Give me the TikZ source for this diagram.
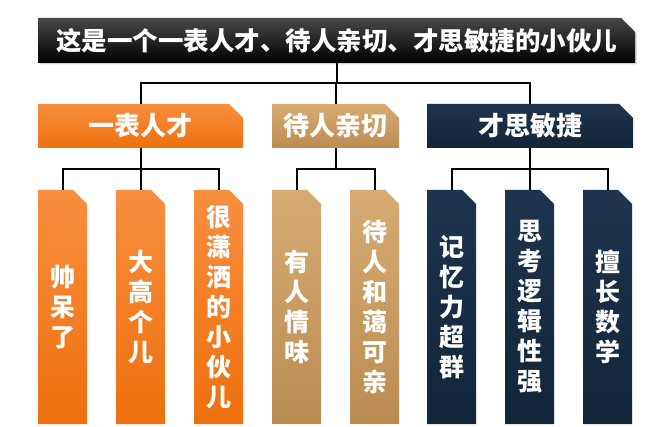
\documentclass[tikz,border=0pt]{standalone}
\usepackage{fontspec}
\setmainfont{Noto Sans CJK SC}
\usepackage{xcolor}
\usetikzlibrary{shapes.misc,shadows}

\definecolor{orangetop}{RGB}{248,142,62}
\definecolor{orangebot}{RGB}{238,112,14}
\definecolor{tantop}{RGB}{214,171,114}
\definecolor{tanbot}{RGB}{186,140,82}
\definecolor{navytop}{RGB}{30,52,78}
\definecolor{navybot}{RGB}{18,37,57}

\tikzset{
  box/.style={chamfered rectangle, chamfered rectangle corners=north east,
    chamfered rectangle sep=7pt, inner sep=0pt, text=white, align=center,
    font=\bfseries\fontsize{25}{30}\selectfont},
  titlebox/.style={box, top color=black!72, bottom color=black,
    font=\bfseries\fontsize{25.5}{30}\selectfont,
    drop shadow={shadow xshift=1.5pt, shadow yshift=-1.5pt, opacity=.35}},
  orangebox/.style={box, top color=orangetop, bottom color=orangebot},
  tanbox/.style={box, top color=tantop, bottom color=tanbot},
  navybox/.style={box, top color=navytop, bottom color=navybot},
  branch/.style={minimum height=44pt, font=\bfseries\fontsize{26}{30}\selectfont},
  leaf/.style={minimum width=49pt, minimum height=234pt},
  link/.style={line width=2pt, black}
}

\begin{document}
\begin{tikzpicture}[x=1pt, y=-1pt]
    \useasboundingbox (0,0) rectangle (650,427);
    \node[titlebox, minimum width=597pt, minimum height=45pt] (title) at (336.5,40.5) {这是一个一表人才、待人亲切、才思敏捷的小伙儿};
    \node[orangebox, branch, minimum width=205pt] (yibiao) at (140.5,126) {一表人才};
    \node[tanbox, branch, minimum width=127pt] (qinqie) at (335.5,126) {待人亲切};
    \node[navybox, branch, minimum width=206pt] (minjie) at (530,126) {才思敏捷};
    \node[orangebox, leaf] (shuai) at (62.5,307) {帅\\呆\\了};
    \node[orangebox, leaf] (dagao) at (140.5,307) {大\\高\\个\\儿};
    \node[orangebox, leaf] (xiaosa) at (218.5,307) {很\\潇\\洒\\的\\小\\伙\\儿};
    \node[tanbox, leaf] (renqing) at (296.5,307) {有\\人\\情\\味};
    \node[tanbox, leaf] (heai) at (374.5,307) {待\\人\\和\\蔼\\可\\亲};
    \node[navybox, leaf] (jiyi) at (451.5,307) {记\\忆\\力\\超\\群};
    \node[navybox, leaf] (luoji) at (529.5,307) {思\\考\\逻\\辑\\性\\强};
    \node[navybox, leaf] (shuxue) at (607.5,307) {擅\\长\\数\\学};
    \draw[link] (title.south) -- ++(0,20) coordinate (hub);
    \draw[link] (hub) -| (yibiao.north);
    \draw[link] (hub) -| (qinqie.north);
    \draw[link] (hub) -| (minjie.north);
    \draw[link] (yibiao.south) -- ++(0,21) coordinate (ybhub);
    \draw[link] (ybhub) -| (shuai.north);
    \draw[link] (ybhub) -- (dagao.north);
    \draw[link] (ybhub) -| (xiaosa.north);
    \draw[link] (qinqie.south) -- ++(0,21) coordinate (qqhub);
    \draw[link] (qqhub) -| (renqing.north);
    \draw[link] (qqhub) -| (heai.north);
    \draw[link] (minjie.south) -- ++(0,21) coordinate (mjhub);
    \draw[link] (mjhub) -| (jiyi.north);
    \draw[link] (mjhub) -| (luoji.north);
    \draw[link] (mjhub) -| (shuxue.north);
\end{tikzpicture}
\end{document}
